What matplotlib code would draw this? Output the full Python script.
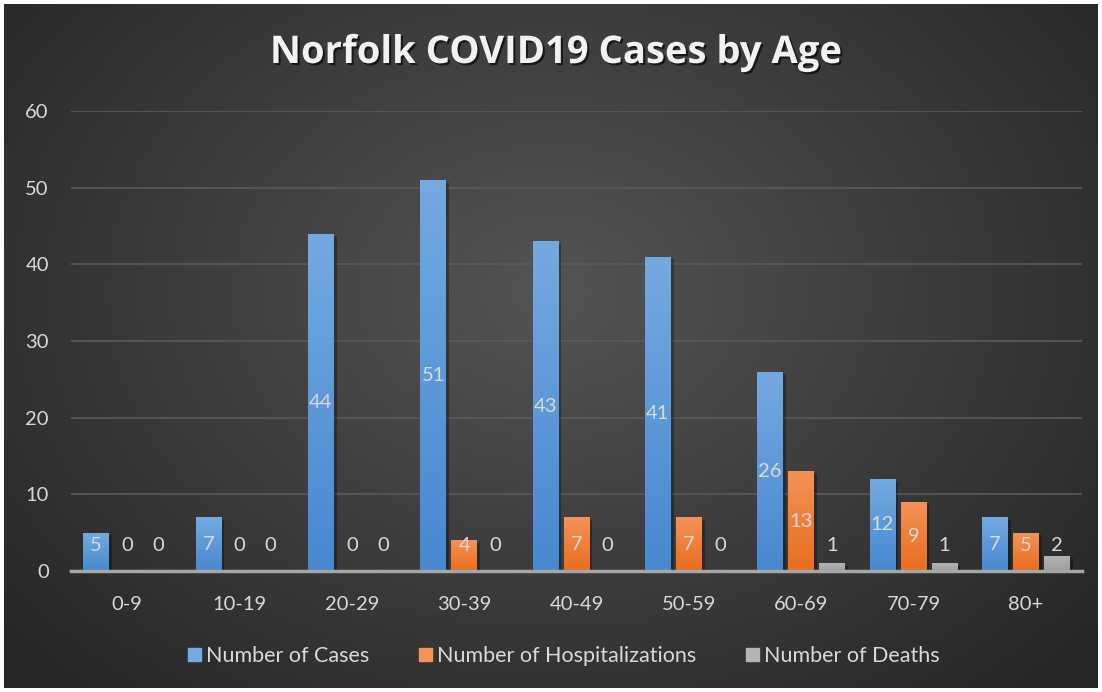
import numpy as np
import matplotlib; matplotlib.use("Agg")
import matplotlib.pyplot as plt
import matplotlib.patheffects as pe

ages = ["0-9", "10-19", "20-29", "30-39", "40-49", "50-59", "60-69", "70-79", "80+"]
cases = [5, 7, 44, 51, 43, 41, 26, 12, 7]
hosp = [0, 0, 0, 4, 7, 7, 13, 9, 5]
deaths = [0, 0, 0, 0, 0, 0, 1, 1, 2]
series_names = ["Number of Cases", "Number of Hospitalizations", "Number of Deaths"]
# (top colour, bottom colour) per series
colors = [("#74aae0", "#4788cf"), ("#f4925a", "#e96d1c"), ("#b4b4b4", "#9e9e9e")]

plt.rcParams["font.family"] = ["Lato", "DejaVu Sans"]
TXT = "#d9d9d9"

fig = plt.figure(figsize=(11.02, 6.92), dpi=100, facecolor="white")

# dark radial-gradient background
bg = fig.add_axes([4 / 1102, 4 / 692, 1 - 8 / 1102, 1 - 8 / 692])
yy, xx = np.mgrid[0:1:300j, 0:1:480j]
r = np.sqrt(((xx - 0.5) / 0.62) ** 2 + ((yy - 0.42) / 0.75) ** 2)
shade = np.clip(0.33 - 0.17 * r, 0.15, 0.34)
bg.imshow(np.dstack([shade] * 3), aspect="auto", extent=[0, 1, 0, 1], origin="upper")
bg.set_axis_off()

ax = fig.add_axes([71 / 1102, 1 - 571 / 692, (1082 - 71) / 1102, (571 - 111) / 692])
ax.set_facecolor("none")
x = np.arange(len(ages))
w, step = 0.23, 0.276
grad = np.linspace(1, 0, 256).reshape(-1, 1)

for k, (vals, name, (ctop, cbot)) in enumerate(zip([cases, hosp, deaths], series_names, colors)):
    pos = x + (k - 1) * step
    bars = ax.bar(pos, vals, width=w, color=cbot, label=name, zorder=3,
                  path_effects=[pe.withSimplePatchShadow(offset=(2, -2), shadow_rgbFace="black", alpha=0.3)])
    c1 = np.array(matplotlib.colors.to_rgb(ctop)); c2 = np.array(matplotlib.colors.to_rgb(cbot))
    img = grad[..., None] * c1 + (1 - grad[..., None]) * c2
    for b, v in zip(bars, vals):
        if v <= 0:
            continue
        im = ax.imshow(img, extent=[b.get_x(), b.get_x() + w, 0, v], aspect="auto", zorder=4)
        im.set_clip_path(b)
    for p, v in zip(pos, vals):
        ax.text(p, max(v / 2, 3.3), str(v), ha="center", va="center", color=TXT,
                fontsize=14.5, zorder=6)

ax.set_xlim(-0.5, len(ages) - 0.5)
ax.set_ylim(0, 60)
ax.set_yticks(range(0, 61, 10))
ax.set_xticks(x, ages)
ax.grid(axis="y", color="#5a5a5a", lw=1.2, zorder=0)
for s in ["top", "right", "left"]:
    ax.spines[s].set_visible(False)
ax.spines["bottom"].set_color("#a6a6a6")
ax.spines["bottom"].set_linewidth(2.5)
ax.spines["bottom"].set_zorder(5)
ax.tick_params(axis="both", length=0, colors=TXT, labelsize=14.5)
ax.tick_params(axis="x", pad=18)
ax.tick_params(axis="y", pad=16)

fig.text(0.505, 1 - 53 / 692, "Norfolk COVID19 Cases by Age", ha="center", va="center",
         fontsize=27.5, fontweight="bold", color="#f2f2f2", family=["Open Sans", "DejaVu Sans"],
         path_effects=[pe.withSimplePatchShadow(offset=(1.5, -1.5), shadow_rgbFace="black", alpha=0.6)])

leg = ax.legend(loc="center", bbox_to_anchor=((564 - 71) / 1011, (571 - 656) / (571 - 111)), ncol=3,
                frameon=False, fontsize=15.5, labelcolor=TXT, handlelength=0.6, handleheight=0.6,
                handletextpad=0.25, columnspacing=2.3)
for h, (ctop, cbot) in zip(leg.legend_handles, colors):
    h.set_path_effects([])
    h.set_color(ctop)

fig.savefig("out.png", dpi=100, facecolor="white")
